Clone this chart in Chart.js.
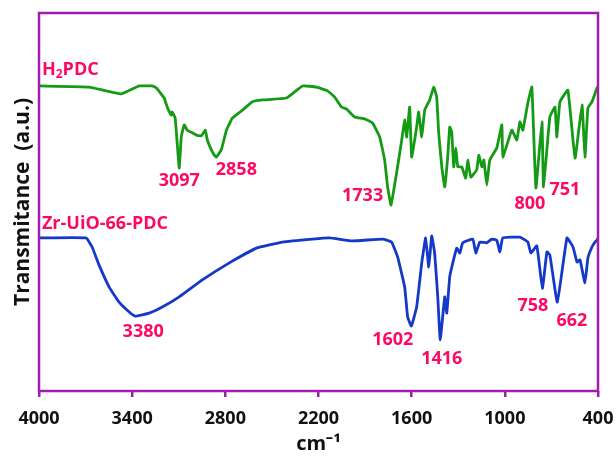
<!DOCTYPE html>
<html>
<head>
<meta charset="utf-8">
<script src="https://cdn.jsdelivr.net/npm/chart.js@4/dist/chart.umd.min.js"></script>
<style>
  html, body { margin: 0; padding: 0; background: #fff; }
  #wrap { width: 616px; height: 460px; position: relative; }
</style>
</head>
<body>
<div id="wrap"><canvas id="ftir"></canvas></div>
<script>
// FTIR spectra, wavenumber (cm-1) vs transmittance (a.u., offset traces)
const h2pdcWn = [4000,3677,3471,3355,3271,3245,3194,3174,3148,3142,3123,3097,3084,3065,3045,3013,2987,2955,2929,2916,2890,2871,2858,2826,2793,2755,2690,2626,2561,2406,2303,2213,2142,2097,2052,2019,1968,1903,1852,1806,1774,1755,1733,1697,1664,1645,1632,1613,1600,1568,1555,1535,1516,1484,1458,1439,1426,1406,1387,1368,1355,1342,1329,1316,1303,1277,1252,1239,1219,1181,1168,1148,1135,1116,1097,1052,1019,1013,955,923,903,884,852,826,800,761,751,710,677,665,645,594,548,503,484,465,439,406,400];
const h2pdcT  = [80.7,80.4,78.6,80.7,80.7,80.2,77.5,75.1,73.0,73.8,72.2,59.0,67.2,70.4,69.0,68.3,67.7,67.5,69.0,66.4,63.8,62.4,61.9,63.8,69.0,72.2,74.3,76.5,77.0,77.5,80.7,80.4,79.4,77.8,75.1,74.6,72.5,72.0,70.9,67.2,61.1,54.0,49.2,57.7,66.4,71.7,67.2,75.1,61.9,69.8,73.8,67.2,74.3,77.0,80.4,77.8,68.3,59.3,54.0,61.9,69.8,68.5,59.3,64.3,59.3,59.3,56.3,61.1,56.6,58.5,62.4,59.3,61.1,54.5,61.1,64.3,70.4,61.9,69.0,66.4,71.2,69.0,76.2,80.4,53.7,71.2,54.0,72.5,75.1,67.2,76.5,79.6,61.6,75.7,61.9,74.9,76.5,80.2,80.5];

const uioWn = [4000,3697,3658,3613,3548,3484,3419,3380,3290,3206,3097,2948,2774,2600,2432,2239,2129,1981,1787,1729,1690,1645,1626,1602,1568,1535,1510,1490,1471,1452,1432,1416,1387,1374,1355,1335,1310,1290,1271,1206,1187,1161,1116,1084,1052,1032,1013,903,852,832,794,758,729,710,662,600,561,535,516,484,465,439,419,406,400];
const uioT  = [40.5,40.5,38.1,33.3,27.5,23.5,20.9,19.8,20.6,22.2,24.9,29.4,33.9,37.8,39.4,40.2,40.5,39.7,40.2,39.4,35.4,27.5,19.6,17.2,22.2,33.9,40.5,32.8,41.0,36.5,24.9,13.5,24.9,20.6,30.2,33.9,37.8,36.5,39.2,40.2,36.5,39.4,39.2,40.2,39.9,36.8,40.5,40.7,39.4,36.5,38.4,27.2,36.8,36.0,23.5,40.5,38.1,34.1,34.7,28.6,35.2,38.1,39.4,39.9,40.5];

const xTicks = [4000,3400,2800,2200,1600,1000,400];

// peak labels: text, wavenumber, transmittance (label centre)
const peakText = ['3097','2858','1733','800','751','3380','1602','1416','758','662'];
const peakWn   = [3097,2729,1916,839,613,3329,1722,1406,819,568];
const peakT    = [55.6,58.5,51.6,49.5,53.2,15.6,13.5,8.5,22.5,18.5];

const pink = '#fb0a64';
const purple = '#a21caf';
const fontFam = '"Open Sans", "Liberation Sans", sans-serif';

function pts(wn, t){ return wn.map((w,i)=>({x:w, y:t[i]})); }

const frame = {
  id: 'frame',
  afterDraw(chart){
    const {ctx, chartArea:a, scales} = chart;
    const xs = scales.x, ys = scales.y;
    ctx.save();
    ctx.strokeStyle = purple;
    ctx.lineWidth = 2.5;
    ctx.strokeRect(a.left, a.top, a.right - a.left, a.bottom - a.top);

    ctx.fillStyle = pink;
    ctx.font = 'bold 18px ' + fontFam;
    ctx.textAlign = 'center';
    ctx.textBaseline = 'middle';
    peakText.forEach((t,i)=>{
      ctx.fillText(t, xs.getPixelForValue(peakWn[i]), ys.getPixelForValue(peakT[i]));
    });

    // sample names
    ctx.textAlign = 'left';
    let x0 = xs.getPixelForValue(3981), y0 = ys.getPixelForValue(84.9);
    ctx.fillText('H', x0, y0);
    let w = ctx.measureText('H').width;
    ctx.font = 'bold 12px ' + fontFam;
    ctx.fillText('2', x0 + w, y0 + 5);
    w += ctx.measureText('2').width;
    ctx.font = 'bold 18px ' + fontFam;
    ctx.fillText('PDC', x0 + w, y0);
    ctx.fillText('Zr-UiO-66-PDC', x0, ys.getPixelForValue(44.2));
    ctx.restore();
  }
};

new Chart(document.getElementById('ftir'), {
  type: 'line',
  data: {
    datasets: [
      { label: 'H2PDC', data: pts(h2pdcWn, h2pdcT), borderColor: '#159a15', borderWidth: 2.8, pointRadius: 0, tension: 0.1 },
      { label: 'Zr-UiO-66-PDC', data: pts(uioWn, uioT), borderColor: '#1438c8', borderWidth: 2.8, pointRadius: 0, tension: 0.1 }
    ]
  },
  options: {
    responsive: true,
    maintainAspectRatio: false,
    animation: false,
    layout: { padding: { left: 0, right: 18, top: 13, bottom: 0 } },
    plugins: { legend: { display: false }, tooltip: { enabled: false } },
    scales: {
      x: {
        type: 'linear', reverse: true, min: 400, max: 4000,
        afterBuildTicks: s => { s.ticks = xTicks.map(v => ({value: v})); },
        afterFit: s => { s.height = 69; s.paddingLeft = 0; s.paddingRight = 0; },
        grid: { drawOnChartArea: false, drawTicks: true, tickLength: 6, color: purple, lineWidth: 2.5 },
        border: { display: false },
        ticks: { color: '#111', padding: 11, maxRotation: 0, callback: v => String(v), font: { family: fontFam, size: 18, weight: 'bold' } },
        title: { display: true, text: 'cm⁻¹', color: '#111', padding: { top: 0, bottom: 4 }, font: { family: fontFam, size: 20, weight: 'bold' } }
      },
      y: {
        min: 0, max: 100,
        afterFit: s => { s.width = 39; },
        grid: { display: false },
        border: { display: false },
        ticks: { display: false },
        title: { display: true, text: 'Transmitance  (a.u.)', color: '#111', padding: { top: 10, bottom: 0 }, font: { family: fontFam, size: 21, weight: 'bold' } }
      }
    }
  },
  plugins: [frame]
});
</script>
</body>
</html>
